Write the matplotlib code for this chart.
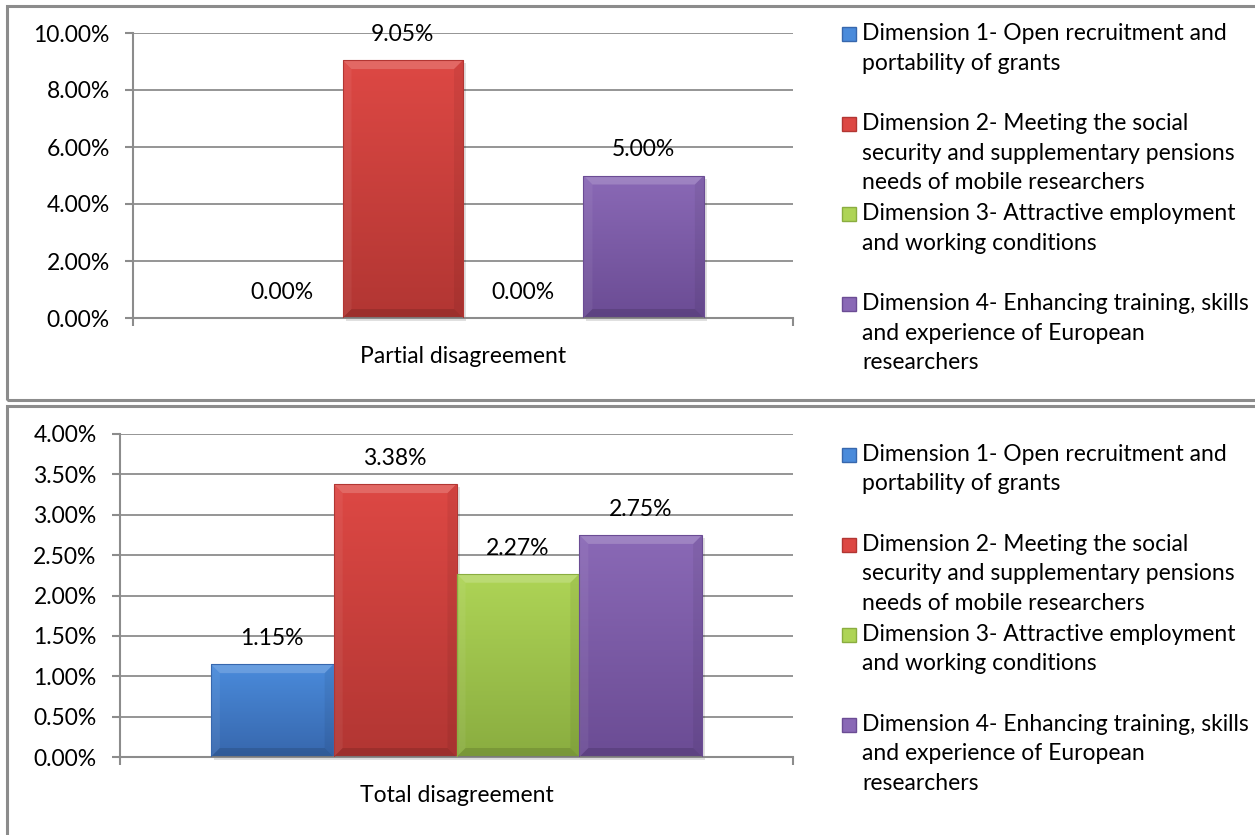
import numpy as np
import matplotlib
matplotlib.use("Agg")
import matplotlib.pyplot as plt
import matplotlib.patches as patches
from matplotlib.colors import LinearSegmentedColormap

plt.rcParams['font.family'] = ['Lato', 'DejaVu Sans']

# Data (percent)
dimensions = [
    "Dimension 1- Open recruitment and\nportability of grants",
    "Dimension 2- Meeting the social\nsecurity and supplementary pensions\nneeds of mobile researchers",
    "Dimension 3- Attractive employment\nand working conditions",
    "Dimension 4- Enhancing training, skills\nand experience of European\nresearchers",
]
partial_values = [0.00, 9.05, 0.00, 5.00]
total_values = [1.15, 3.38, 2.27, 2.75]
panel_labels = ["Partial disagreement", "Total disagreement"]
partial_ticks = [0, 2, 4, 6, 8, 10]
total_ticks = [0, 0.5, 1.0, 1.5, 2.0, 2.5, 3.0, 3.5, 4.0]

# bar colours: (light top, dark bottom)
bar_colors = [("#4A8BDB", "#3767AD"), ("#DD4844", "#B23633"),
              ("#AED456", "#8AAD40"), ("#8A69B6", "#6B4C94")]

W, H = 1255, 835
GRAY = "#8c8c8c"
FS = 16.5

fig = plt.figure(figsize=(W / 100, H / 100), dpi=100)


def px_rect(x0, y0, x1, y1):
    # pixel box (top-left origin) -> figure fraction [l, b, w, h]
    return [x0 / W, 1 - y1 / H, (x1 - x0) / W, (y1 - y0) / H]


def bevel_bar(ax, rect, c_top, c_bot, px_x, px_y):
    x0, y0 = rect.get_x(), rect.get_y()
    w, h = rect.get_width(), rect.get_height()
    if h <= 0:
        return
    # soft shadow on the right / bottom
    ax.add_patch(patches.Rectangle((x0 + 3 * px_x, y0 - 3 * px_y), w, h, fc="black",
                                   alpha=0.12, lw=0, zorder=1.9, clip_on=False))
    cmap = LinearSegmentedColormap.from_list("g", [c_bot, c_top])
    grad = np.linspace(0, 1, 100).reshape(-1, 1)
    im = ax.imshow(grad, extent=[x0, x0 + w, y0, y0 + h], origin="lower",
                   cmap=cmap, aspect="auto", zorder=2)
    im.set_clip_path(rect)
    bx, by = 9 * px_x, 9 * px_y
    by = min(by, h / 2)
    x1, y1 = x0 + w, y0 + h
    top = patches.Polygon([(x0, y1), (x1, y1), (x1 - bx, y1 - by), (x0 + bx, y1 - by)],
                          closed=True, fc="white", alpha=0.18, lw=0, zorder=3)
    bot = patches.Polygon([(x0, y0), (x1, y0), (x1 - bx, y0 + by), (x0 + bx, y0 + by)],
                          closed=True, fc="black", alpha=0.12, lw=0, zorder=3)
    left = patches.Polygon([(x0, y0), (x0 + bx, y0 + by), (x0 + bx, y1 - by), (x0, y1)],
                           closed=True, fc="white", alpha=0.06, lw=0, zorder=3)
    right = patches.Polygon([(x1, y0), (x1 - bx, y0 + by), (x1 - bx, y1 - by), (x1, y1)],
                            closed=True, fc="black", alpha=0.06, lw=0, zorder=3)
    for p in (top, bot, left, right):
        ax.add_patch(p)
    ax.add_patch(patches.Rectangle((x0, y0), w, h, fc="none", ec=c_bot, lw=0.8, zorder=4))


def draw_panel(box, values, ticks, label, legend_y0):
    ax = fig.add_axes(px_rect(*box))
    ax_w_px = box[2] - box[0]
    ax_h_px = box[3] - box[1]
    ymax = ticks[-1]
    xlim = (-0.5, 0.5)
    px_x = (xlim[1] - xlim[0]) / ax_w_px
    px_y = ymax / ax_h_px

    n = len(values)
    bw = 0.73 / n
    xs = -0.365 + bw / 2 + np.arange(n) * bw
    bars = ax.bar(xs, values, width=bw, color="none", zorder=2)
    for i, (rect, v) in enumerate(zip(bars, values)):
        bevel_bar(ax, rect, bar_colors[i][0], bar_colors[i][1], px_x, px_y)
        ax.annotate(f"{v:.2f}%", (rect.get_x() + bw / 2, v), xytext=(0, 18.5),
                    textcoords="offset points", ha="center", va="center",
                    fontsize=FS, color="black")

    ax.set_xlim(*xlim)
    ax.set_ylim(0, ymax)
    ax.set_yticks(ticks)
    ax.set_yticklabels([f"{t:.2f}%" for t in ticks])
    ax.set_xticks([0])
    ax.set_xticklabels([label])
    ax.set_xticks([-0.5, 0.5], minor=True)
    ax.tick_params(axis="x", which="major", length=0, pad=20, labelsize=FS)
    ax.tick_params(axis="x", which="minor", length=5.8, width=1.5, color=GRAY)
    ax.tick_params(axis="y", length=5.8, width=1.5, color=GRAY, pad=11, labelsize=FS)
    for s in ("top", "right"):
        ax.spines[s].set_visible(False)
    for s in ("left", "bottom"):
        ax.spines[s].set_color(GRAY)
        ax.spines[s].set_linewidth(1.5)
    ax.yaxis.grid(True, color=GRAY, lw=1.3)
    ax.set_axisbelow(True)

    # legend, entries evenly spaced like the original
    for j, name in enumerate(dimensions):
        yc = legend_y0 + j * 90
        fig.add_artist(patches.Rectangle((842 / W, 1 - (yc + 7) / H), 14 / W, 14 / H,
                                         transform=fig.transFigure,
                                         fc=bar_colors[j][0], ec=bar_colors[j][1], lw=1))
        fig.text(862 / W, 1 - (yc - 11) / H, name, ha="left", va="top",
                 fontsize=FS, linespacing=1.5)
    return ax


# panel frames
fig.add_artist(patches.Rectangle((7 / W, 1 - 400 / H), 1.1, (400 - 6) / H,
                                 transform=fig.transFigure, fc="none", ec=GRAY, lw=2.2))
fig.add_artist(patches.Rectangle((7 / W, -0.1), 1.1, 0.1 + 1 - 406 / H,
                                 transform=fig.transFigure, fc="none", ec=GRAY, lw=2.2))

draw_panel((133, 33, 793, 318), partial_values, partial_ticks, panel_labels[0], 34)
draw_panel((120, 434, 793, 757), total_values, total_ticks, panel_labels[1], 455)

fig.savefig("out.png", dpi=100)
